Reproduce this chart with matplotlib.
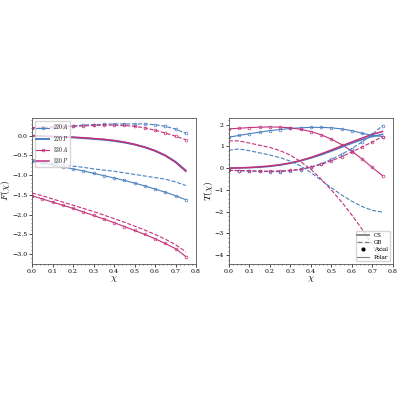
import numpy as np
import matplotlib
matplotlib.use("Agg")
import matplotlib.pyplot as plt
plt.rcParams['mathtext.fontset'] = 'cm'
plt.rcParams['font.family'] = 'serif'
plt.rcParams['font.serif'] = ['DejaVu Serif']

x = [0,0.05,0.1,0.15,0.2,0.25,0.3,0.35,0.4,0.45,0.5,0.55,0.6,0.65,0.7,0.75]
# left panel
L_220A_solid = [-0.65,-0.69,-0.74,-0.79,-0.84,-0.89,-0.95,-1.01,-1.07,-1.13,-1.2,-1.27,-1.35,-1.43,-1.52,-1.62]
L_220A_dash = [-0.6,-0.66,-0.7,-0.73,-0.77,-0.8,-0.84,-0.87,-0.9,-0.94,-0.98,-1.02,-1.06,-1.1,-1.17,-1.26]
L_220P = [0.0,-0.01,-0.02,-0.03,-0.04,-0.06,-0.08,-0.1,-0.13,-0.17,-0.22,-0.29,-0.38,-0.5,-0.66,-0.88]
L_220up = [0.2,0.21,0.22,0.24,0.25,0.27,0.28,0.29,0.3,0.3,0.3,0.3,0.28,0.24,0.17,0.06]
L_330up = [0.2,0.21,0.22,0.23,0.24,0.25,0.26,0.27,0.27,0.26,0.24,0.2,0.14,0.07,-0.01,-0.1]
L_330P = [0,-0.01,-0.02,-0.03,-0.04,-0.05,-0.07,-0.09,-0.12,-0.16,-0.22,-0.29,-0.38,-0.5,-0.67,-0.9]
L_330A_solid = [-1.52,-1.6,-1.68,-1.76,-1.84,-1.93,-2.02,-2.11,-2.2,-2.3,-2.4,-2.5,-2.61,-2.73,-2.86,-3.06]
L_330A_dash = [-1.45,-1.52,-1.6,-1.68,-1.76,-1.84,-1.92,-2.01,-2.1,-2.19,-2.29,-2.39,-2.5,-2.62,-2.76,-2.94]
# right panel
R_bA = [1.42,1.5,1.58,1.65,1.72,1.77,1.82,1.85,1.87,1.87,1.85,1.8,1.72,1.6,1.5,1.45]
R_pA = [1.8,1.83,1.86,1.88,1.89,1.88,1.85,1.78,1.68,1.53,1.33,1.08,0.78,0.42,0.03,-0.35]
R_bP = [0,0.01,0.02,0.04,0.08,0.14,0.22,0.33,0.46,0.61,0.78,0.96,1.14,1.31,1.45,1.55]
R_pP = [0,0.01,0.03,0.06,0.1,0.16,0.24,0.35,0.49,0.65,0.83,1.02,1.2,1.38,1.55,1.68]
R_bAd = [-0.1,-0.12,-0.14,-0.15,-0.16,-0.16,-0.12,-0.07,0.05,0.2,0.4,0.63,0.9,1.2,1.55,1.95]
R_pAd = [-0.1,-0.11,-0.12,-0.13,-0.14,-0.13,-0.1,-0.05,0.04,0.17,0.33,0.52,0.74,0.97,1.2,1.45]
R_bPd = [0.82,0.88,0.8,0.7,0.6,0.48,0.32,0.1,-0.2,-0.55,-0.9,-1.23,-1.52,-1.76,-1.94,-2.02]
R_pPd = [1.25,1.25,1.15,1.05,0.95,0.8,0.6,0.3,-0.05,-0.5,-1.0,-1.55,-2.15,-2.8,-3.5,-4.2]

B = '#4a7fc1'; P = '#c2307a'
mk = dict(marker='o', ms=2.0, mfc='none', mew=0.5, lw=0.8)

fig = plt.figure(figsize=(4,4), dpi=100)
ax1 = fig.add_axes([0.08,0.34,0.41,0.365])
ax2 = fig.add_axes([0.572,0.34,0.41,0.365])

ax1.plot(x, L_220A_solid, color=B, **mk, label=r'$220\,A$')
ax1.plot(x, L_220P, color=B, lw=1.4, label=r'$220\,P$')
ax1.plot(x, L_330A_solid, color=P, **mk, label=r'$330\,A$')
ax1.plot(x, L_330P, color=P, lw=1.1, label=r'$330\,P$')
ax1.plot(x, L_220A_dash, color=B, ls='--', lw=0.8)
ax1.plot(x, L_220up, color=B, ls='--', **mk)
ax1.plot(x, L_330up, color=P, ls='--', **mk)
ax1.plot(x, L_330A_dash, color=P, ls='--', lw=0.8)
ax1.set_xlim(0,0.8); ax1.set_ylim(-3.25,0.45)
ax1.set_xlabel(r'$\chi$', fontsize=7, labelpad=0)
ax1.set_ylabel(r'$F(\chi)$', fontsize=7, labelpad=0)
ax1.legend(loc='upper left', fontsize=4, handlelength=2.2, borderpad=0.3, labelspacing=0.4, framealpha=0.8)

ax2.plot(x, R_bA, color=B, **mk)
ax2.plot(x, R_pA, color=P, **mk)
ax2.plot(x, R_bP, color=B, lw=1.1)
ax2.plot(x, R_pP, color=P, lw=1.1)
ax2.plot(x, R_bAd, color=B, ls='--', **mk)
ax2.plot(x, R_pAd, color=P, ls='--', **mk)
ax2.plot(x, R_bPd, color=B, ls='--', lw=0.8)
ax2.plot(x, R_pPd, color=P, ls='--', lw=0.8)
ax2.set_xlim(0,0.8); ax2.set_ylim(-4.4,2.3)
ax2.set_xlabel(r'$\chi$', fontsize=7, labelpad=0)
ax2.set_ylabel(r'$T(\chi)$', fontsize=7, labelpad=0)
from matplotlib.lines import Line2D
h = [Line2D([],[],color='gray',lw=1.3,label='CS'),
     Line2D([],[],color='gray',lw=1,ls='--',label='GB'),
     Line2D([],[],color='k',marker='o',ms=2.0,ls='none',label='Axial'),
     Line2D([],[],color='gray',lw=0.8,label='Polar')]
ax2.legend(handles=h, loc='lower right', fontsize=4, handlelength=2.2, borderpad=0.3, labelspacing=0.4, framealpha=0.8)

for ax in (ax1, ax2):
    ax.minorticks_on()
    ax.tick_params(labelsize=4.5, length=2, width=0.5, pad=1.5)
    ax.tick_params(which='minor', length=1, width=0.4)
    for s in ax.spines.values():
        s.set_linewidth(0.6); s.set_color('#555555')
fig.savefig('out.png', dpi=100)
